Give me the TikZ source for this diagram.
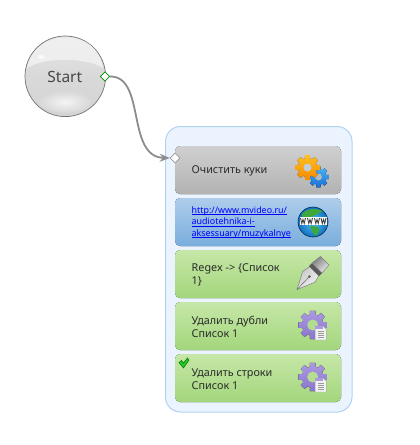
\documentclass[tikz,border=0pt]{standalone}
\usepackage{fontspec}
\setmainfont{Noto Sans}
\usetikzlibrary{arrows.meta,shapes.geometric}
\definecolor{txt}{HTML}{2A2A2A}
\definecolor{grpedge}{HTML}{B2D2F2}
\definecolor{grpfill}{HTML}{EBF4FE}
\definecolor{graytop}{HTML}{D0D0D0}
\definecolor{graybot}{HTML}{B2B2B2}
\definecolor{bluetop}{HTML}{AECDEB}
\definecolor{bluebot}{HTML}{79ADDC}
\definecolor{greentop}{HTML}{C6E7A8}
\definecolor{greenbot}{HTML}{A3D67B}
\definecolor{purpletop}{HTML}{AB9AE0}
\definecolor{purplebot}{HTML}{8A74CE}
\definecolor{ambertop}{HTML}{FFC020}
\definecolor{amberbot}{HTML}{F58A00}
\definecolor{gearbluetop}{HTML}{4AB4F0}
\definecolor{gearbluebot}{HTML}{1A6FD8}
\definecolor{land}{HTML}{3FA83C}
\definecolor{seaone}{HTML}{55C4F0}
\definecolor{seatwo}{HTML}{1070C0}
\newcommand{\ulnk}[1]{\setbox0\hbox{#1}\rlap{\rule[-1.4pt]{\wd0}{.55pt}}\box0}
\tikzset{
  x=1pt,y=-1pt,
  groupbox/.style={draw=grpedge,line width=1pt,rounded corners=15pt,fill=grpfill},
  card/.style={rounded corners=5pt,shading=axis,shading angle=0},
  graycard/.style={card,top color=graytop,bottom color=graybot},
  bluecard/.style={card,top color=bluetop,bottom color=bluebot},
  greencard/.style={card,top color=greentop,bottom color=greenbot},
  cardtext/.style={anchor=west,inner sep=0pt,align=left,font=\fontsize{10.8}{12.8}\selectfont,text=txt},
  linktext/.style={anchor=west,inner sep=0pt,align=left,font=\fontsize{8.9}{11.5}\selectfont,text=blue},
  port/.style={diamond,draw,fill=white,inner sep=0pt,minimum size=9.5pt,line width=0.6pt},
}
\newcommand{\drawgear}[5]{% cx cy r top bottom
  \fill[top color=#4,bottom color=#5]
   ({#1+.74*#3*cos(-16)},{#2+.74*#3*sin(-16)})
   \foreach \a in {0,45,...,315}{
     -- ({#1+#3*cos(\a-11)},{#2+#3*sin(\a-11)}) -- ({#1+#3*cos(\a+11)},{#2+#3*sin(\a+11)})
     -- ({#1+.74*#3*cos(\a+16)},{#2+.74*#3*sin(\a+16)}) -- ({#1+.74*#3*cos(\a+29)},{#2+.74*#3*sin(\a+29)})
   } -- cycle;
}
\newcommand{\docicon}[2]{%
  \fill[black!5,draw=black!40,line width=.4pt] (#1,#2) -- ++(8,0) -- ++(3,3) -- ++(0,11) -- ++(-11,0) -- cycle;
  \fill[purpletop] (#1,#2) -- ++(8,0) -- ++(0,3) -- ++(-8,0) -- cycle;
  \foreach \k in {5.5,7.5,9.5,11.5}{\draw[black!40,line width=.5pt] ({#1+3},{#2+\k}) -- ++(6,0);}
}
\newcommand{\purplegear}[3]{%
  \drawgear{#1}{#2}{14.5}{purpletop}{purplebot}
  \fill[#3] (#1,#2) circle (5.5);
  \docicon{#1+2.5}{#2+1}
}
\begin{document}
\begin{tikzpicture}
\useasboundingbox (0,0) rectangle (420,445);
\fill[white] (0,0) rectangle (420,445);
% group
\draw[groupbox] (165.5,126.5) rectangle (352,412);
% cards
\fill[graycard] (175,146) rectangle (341,194);
\fill[bluecard] (175,198) rectangle (341,246);
\fill[greencard] (175,250) rectangle (341,298);
\fill[greencard] (175,302) rectangle (341,350);
\fill[greencard] (175,354) rectangle (341,402);
% texts
\node[cardtext] (t1) at (191.5,170.5) {Очистить куки};
\node[linktext] (t2) at (191.5,222.5) {\ulnk{http://www.mvideo.ru/}\\\ulnk{audiotehnika-i-}\\\ulnk{aksessuary/muzykalnye}};
\node[cardtext] (t3) at (191.5,275) {Regex -> \{Список\\1\}};
\node[cardtext] (t4) at (191.5,327) {Удалить дубли\\Список 1};
\node[cardtext] (t5) at (191.5,379) {Удалить строки\\Список 1};
% start
\node[circle,draw=black!55,line width=.7pt,minimum size=80.6pt,inner sep=0pt,top color=black!10,bottom color=black!17,middle color=black!15] (start) at (65.3,76.3) {};
\fill[black!5,opacity=.8] (27,68) .. controls (45,57) and (85,57) .. (103,68) .. controls (98,44) and (82,37.5) .. (65,37.5) .. controls (48,37.5) and (31,48) .. (27,68) -- cycle;
\shade[inner color=white,outer color=black!15,opacity=.75] (65,102) ellipse (26 and 11);
\shade[inner color=white,outer color=black!8,opacity=.9] (41,56.5) ellipse (6 and 4);
\node[inner sep=0pt,font=\fontsize{15.5}{17}\selectfont,text=black!72] (starttext) at (64.8,76.5) {Start};
% ports and connector
\node[port,draw=green!55!black] (p1) at (105,76.5) {};
\node[port,draw=black!40,minimum size=10pt] (p2) at (175,158) {};
\draw[black!45,line width=1.8pt,-{Stealth[length=10pt,width=8pt]}] (p1.east) .. controls (146,76) and (126,157) .. (p2.west);
% gears
\drawgear{318.5}{177}{10.5}{gearbluetop}{gearbluebot}
\fill[graybot!70!bluetop] (318.5,177) circle (3.4);
\drawgear{307.5}{167.5}{12.5}{ambertop}{amberbot}
\fill[graytop!60!bluetop] (307.5,167.5) circle (4);
% globe
\shade[inner color=seaone,outer color=seatwo] (313,222) circle (15);
\fill[land] (302,214) .. controls (307,208) and (316,208) .. (323,211) .. controls (319,214) and (313,215) .. (311,218) -- (303,218) -- cycle;
\fill[land] (310,226) .. controls (320,226) and (322,229) .. (316,236) -- (313,233) -- cycle;
\draw[black!60!seatwo,line width=.6pt] (313,222) circle (15);
\fill[white] (299.5,217) rectangle (327,224.5);
\draw[black!75,line width=.9pt] (300.5,218) -- (301.8,223.5) -- (303,219.5) -- (304.2,223.5) -- (305.5,218)
  (307.5,218) -- (308.8,223.5) -- (310,219.5) -- (311.2,223.5) -- (312.5,218)
  (314.5,218) -- (315.8,223.5) -- (317,219.5) -- (318.2,223.5) -- (319.5,218)
  (321,218) -- (322.3,223.5) -- (323.5,219.5) -- (324.7,223.5) -- (326,218);
% pen
\shade[left color=black!22,right color=black!5,draw=black!50,line width=.5pt,shading angle=45]
  (302.5,271.5) -- (310,266.5) -- (319,275.5) -- (315,282) .. controls (309,285) and (303,287) .. (297,289.5) .. controls (299,283) and (301,277) .. (302.5,271.5) -- cycle;
\fill[black!65] (309,266) -- (312,263) -- (322,273) -- (319,276) -- cycle;
\shade[left color=black!50,right color=black!8,shading angle=45,draw=black!50,line width=.5pt]
  (312,263) -- (320.5,256.5) -- (329,265) -- (322,273) -- cycle;
\draw[black!60,line width=.5pt] (297,289.5) -- (309,277);
\fill[black!65] (309.5,276.5) circle (1.3);
% purple gears
\purplegear{312.7}{325}{greentop!45!greenbot}
\purplegear{312.7}{377}{greentop!45!greenbot}
% check
\fill[green!75!black!85,draw=green!45!black,line width=.5pt] (179,362.5) -- (181.5,360.5) -- (183.5,363) -- (187.5,358) -- (189,360) -- (183.5,368) -- cycle;
\end{tikzpicture}
\end{document}
